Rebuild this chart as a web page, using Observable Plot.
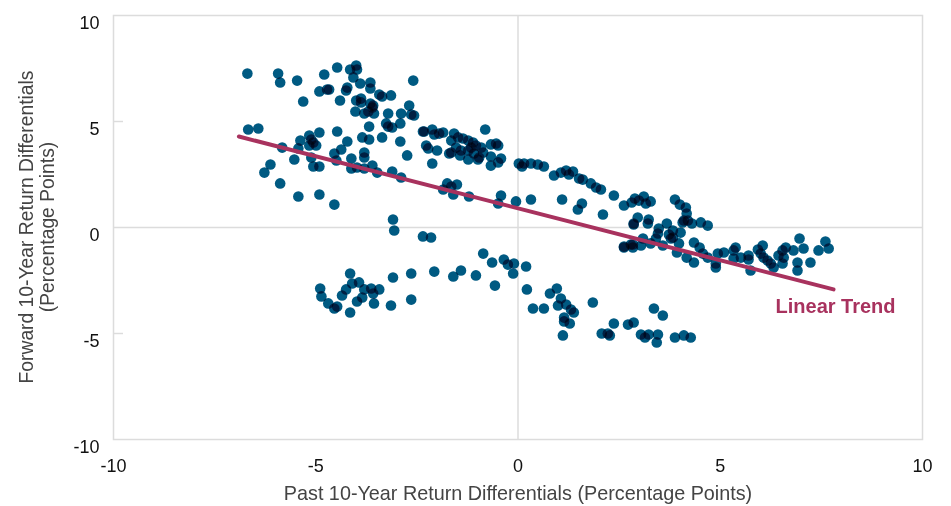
<!DOCTYPE html>
<html>
<head>
<meta charset="utf-8">
<script src="https://cdn.jsdelivr.net/npm/d3@7"></script>
<script src="https://cdn.jsdelivr.net/npm/@observablehq/plot@0.6"></script>
<style>
  html, body { margin: 0; padding: 0; background: #fff; }
  #chart { width: 951px; height: 506px; }
</style>
</head>
<body>
<div id="chart"></div>
<script>
// Past 10-year return differential (x) and forward 10-year return differential (y), percentage points
const pastX = [
-6.69,-5.93,-5.88,-5.46,-4.79,-4.47,-4.15,-4.0,-3.98,-4.07,-3.90,-3.65,-3.65,-2.59,-4.91,-4.72,-4.67,-4.22,-4.25,-5.31,
-4.40,-4.0,-3.88,-3.88,-3.65,-3.58,-3.60,-3.43,-3.36,-3.14,-4.02,-3.80,-3.70,-3.56,-2.69,-2.64,-2.57,-3.21,-2.89,-2.91,
-3.26,-3.21,-3.11,-3.68,-6.67,-6.42,-4.47,-4.91,-5.16,-5.11,-5.06,-4.99,-5.16,-5.38,-5.83,-5.43,-4.22,-3.85,-3.68,-3.36,
-2.91,-2.32,-2.12,-2.07,-1.95,-2.27,-2.0,-2.12,-2.74,-3.80,-3.80,-4.37,-4.54,-4.49,-4.12,-5.53,-5.11,-5.06,-4.91,-6.12,
-6.27,-5.88,-5.43,-4.91,-4.54,-4.12,-3.98,-3.80,-3.60,-3.48,-3.11,-2.89,-3.09,
-2.35,-1.85,-2.22,-1.58,-1.65,-1.48,-1.36,-1.23,-1.11,-1.04,-0.91,-0.86,-0.96,-1.09,-1.23,-1.41,-1.65,-1.70,-1.43,-1.23,
-0.99,-0.81,-0.67,-0.54,-0.49,-0.67,-0.67,-0.49,-0.42,-1.53,-1.16,-1.75,-1.65,-1.51,-1.85,-1.60,-1.21,-0.42,-0.49,-0.05,
0.32,0.02,0.10,0.15,0.32,0.49,0.64,0.89,1.06,1.19,1.36,1.26,1.51,1.60,1.80,1.93,2.05,2.37,1.09,1.58,
1.48,2.10,2.62,2.81,2.89,2.99,2.96,2.86,-2.35,-2.15,2.62,2.84,
3.11,3.16,3.28,3.88,4.0,4.15,4.17,4.10,4.20,4.30,4.07,4.52,4.69,2.86,3.23,3.21,3.48,3.68,3.83,3.73,
4.02,3.83,3.46,3.41,3.28,3.09,3.04,2.79,2.84,2.62,3.58,3.78,3.98,3.93,4.35,4.49,4.57,4.17,4.35,4.69,
4.89,4.89,4.94,5.09,5.33,5.38,5.33,5.51,5.70,5.70,5.75,5.93,6.05,6.0,6.07,6.17,6.25,6.32,6.44,6.54,
6.62,6.57,6.54,6.81,6.96,7.06,6.91,6.91,7.23,7.43,7.60,7.68,
-3.06,-4.89,-4.86,-4.69,-4.54,-4.47,-4.15,-4.35,-4.25,-4.15,-4.10,-3.93,-3.80,-3.63,-3.58,-3.43,-3.98,-3.85,-3.56,-3.14,
-3.09,-2.64,-2.64,-2.07,-1.60,-1.41,-1.04,-0.86,-0.64,-0.57,-0.35,-0.25,-0.12,-0.10,0.20,0.22,0.37,
0.64,0.79,0.96,1.06,0.99,1.19,1.31,1.38,1.14,1.14,1.28,1.11,1.85,2.07,2.22,2.27,2.37,2.72,2.86,3.04,
3.14,3.23,3.36,3.46,3.43,3.58,3.88,4.10,4.27
];
const forwardY = [
7.26,7.26,6.84,6.93,7.22,7.55,7.45,7.64,7.45,7.08,6.79,6.84,6.56,6.93,6.42,6.51,6.51,6.60,6.46,5.94,
5.99,5.99,6.08,5.90,5.85,5.75,5.66,6.27,6.18,6.23,5.47,5.38,5.47,5.38,5.75,5.33,5.28,5.38,5.38,4.91,
4.91,4.76,4.72,4.76,4.62,4.67,4.53,4.48,4.34,4.15,4.01,3.87,3.87,4.10,3.77,3.73,4.06,4.25,4.15,4.25,
4.06,4.53,4.62,4.39,4.43,3.87,3.63,3.02,3.40,3.54,3.30,3.68,3.49,3.16,3.25,3.21,3.30,2.88,2.88,2.97,
2.59,2.08,1.46,1.56,1.08,2.78,2.83,2.78,2.92,2.59,2.64,2.36,0.38,
4.53,4.48,3.73,4.43,4.10,4.25,4.20,4.10,4.01,3.87,3.77,3.54,3.30,3.49,3.63,3.63,3.54,3.49,3.40,3.21,
3.21,4.62,3.92,3.96,3.87,3.35,2.92,3.07,3.25,3.77,3.77,2.08,1.93,2.03,1.79,1.56,1.46,1.51,1.13,1.23,
1.32,3.02,2.88,3.02,3.02,2.97,2.88,2.45,2.59,2.69,2.64,2.50,2.31,2.26,2.08,1.89,1.79,1.51,1.32,1.13,
0.85,0.61,1.04,1.18,1.37,1.27,0.47,0.14,-0.42,-0.47,-0.90,-0.80,
1.46,1.13,1.23,1.32,1.08,0.94,0.66,0.33,0.33,0.19,0.24,0.24,0.09,0.19,0.38,0.19,-0.05,0.19,-0.14,-0.33,
-0.24,-0.47,-0.28,-0.52,-0.75,-0.52,-0.85,-0.80,-0.94,-0.94,-0.85,-0.52,-0.75,-1.18,-0.71,-0.94,-1.23,-1.42,-1.65,-1.42,
-1.70,-1.89,-1.23,-1.18,-1.08,-0.94,-1.46,-1.42,-1.32,-1.51,-2.03,-1.04,-0.85,-1.23,-1.42,-1.56,-1.70,-1.89,-1.32,-1.08,
-0.94,-1.42,-1.70,-1.08,-0.52,-0.99,-1.65,-2.03,-1.65,-1.08,-0.66,-0.99,
-0.14,-2.88,-3.25,-3.58,-3.82,-3.73,-4.01,-3.21,-2.92,-2.17,-2.64,-2.59,-2.92,-2.88,-3.11,-2.92,-3.49,-3.30,-3.58,-3.68,
-2.36,-2.17,-3.40,-2.08,-2.31,-2.03,-2.26,-1.23,-1.65,-2.74,-1.51,-1.75,-2.17,-1.70,-1.84,-2.92,-3.82,
-3.82,-3.11,-2.88,-3.35,-3.68,-3.63,-3.87,-4.01,-4.25,-4.43,-4.53,-5.09,-3.54,-5.0,-5.0,-5.09,-4.53,-4.58,-4.48,-5.05,
-5.19,-5.05,-3.82,-5.05,-5.42,-4.15,-5.19,-5.09,-5.19
];
// Linear trend endpoints
const trendX = [-6.9, 7.8];
const trendY = [4.29, -2.92];
const trendLabel = ["Linear Trend"];
const trendLabelX = [7.85];
const trendLabelY = [-3.73];

const xTicks = [-10, -5, 0, 5, 10];
const yTicks = [-10, -5, 0, 5, 10];
const innerTicks = [-5, 5];

const points = pastX.map((x, i) => ({x, y: forwardY[i]}));
const trend = trendX.map((x, i) => ({x, y: trendY[i]}));
const label = trendLabel.map((t, i) => ({t, x: trendLabelX[i], y: trendLabelY[i]}));

const font = "'Liberation Sans', Arial, Helvetica, sans-serif";
const trendColor = "#a8325e";
const fmt = d => String(d);

const chart = Plot.plot({
  width: 951,
  height: 506,
  marginLeft: 113,
  marginRight: 29,
  marginTop: 15,
  marginBottom: 67,
  style: {fontFamily: font, fontSize: "18px", color: "#111", background: "#fff"},
  x: {domain: [-10, 10]},
  y: {domain: [-10, 10]},
  marks: [
    Plot.frame({stroke: "#dcdcdc", strokeWidth: 1.5}),
    Plot.ruleX([0], {stroke: "#dcdcdc", strokeWidth: 1.5}),
    Plot.ruleY([0], {stroke: "#dcdcdc", strokeWidth: 1.5}),
    Plot.axisY(innerTicks, {tickSize: 10, dx: 10, stroke: "#dcdcdc", strokeWidth: 1.5, tickFormat: () => "", label: null}),
    Plot.axisX(xTicks, {tickSize: 0, tickPadding: 20, fontSize: 18, fill: "#111", tickFormat: fmt,
      label: "Past 10-Year Return Differentials (Percentage Points)", labelAnchor: "center", labelArrow: "none", labelOffset: 60}),
    Plot.axisY(yTicks, {tickSize: 0, tickPadding: 14, dy: 8, fontSize: 18, fill: "#111", tickFormat: fmt, label: null}),
    Plot.dot(points, {x: "x", y: "y", r: 5.3, fill: "#005a82", stroke: "none", mixBlendMode: "multiply"}),
    Plot.line(trend, {x: "x", y: "y", stroke: trendColor, strokeWidth: 4}),
    Plot.text(label, {x: "x", y: "y", text: "t", fill: trendColor, fontSize: 20, fontWeight: "bold"})
  ]
});

// Two-line rotated y-axis title
const svg = d3.select(chart);
const yl = svg.append("text")
  .attr("transform", "translate(37,227) rotate(-90)")
  .attr("text-anchor", "middle")
  .attr("fill", "#444")
  .style("font-family", font)
  .style("font-size", "19.3px");
yl.append("tspan").attr("x", 0).attr("dy", "-0.22em").text("Forward 10-Year Return Differentials");
yl.append("tspan").attr("x", 0).attr("dy", "1.1em").text("(Percentage Points)");
svg.selectAll("[aria-label='x-axis label'] text").attr("fill", "#444").style("font-size", "19.8px");

document.getElementById("chart").appendChild(chart);
</script>
</body>
</html>
